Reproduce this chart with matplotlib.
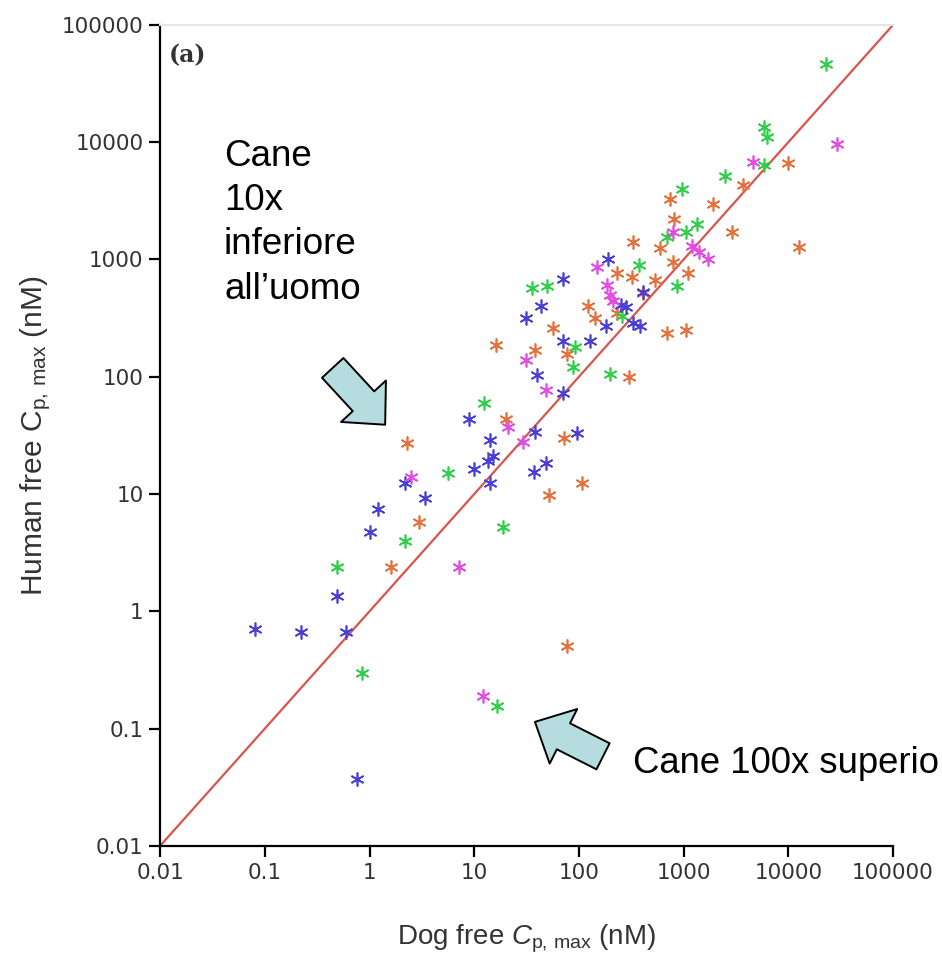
import numpy as np
import matplotlib
matplotlib.use("Agg")
import matplotlib.pyplot as plt

plt.rcParams["mathtext.fontset"] = "custom"
plt.rcParams["mathtext.rm"] = "Liberation Sans"
plt.rcParams["mathtext.it"] = "Liberation Sans:italic"

# values (dog free Cp,max, human free Cp,max), nM
blue_dog = [0.08, 0.22, 0.60, 0.49, 0.76, 1.0, 1.2, 2.2, 3.4, 9.0, 10, 14, 15, 13.5, 14,
            38, 95, 37, 48, 40, 70, 31, 43, 70, 70, 128, 190, 180, 250, 280, 330, 380, 410]
blue_hum = [0.70, 0.67, 0.67, 1.35, 0.037, 4.7, 7.5, 12.5, 9.3, 44, 16.5, 29, 21, 19, 12.5,
            34, 33, 15.5, 18.5, 104, 72, 320, 400, 680, 200, 200, 1000, 270, 410, 390, 285, 270, 530]

orange_dog = [1.6, 3.0, 2.3, 20, 72, 106, 52, 77, 16, 38, 57, 77, 123, 143, 232, 300, 230,
              320, 530, 410, 330, 600, 700, 1050, 790, 1100, 740, 810, 1900, 2900, 3700,
              10000, 12700]
orange_hum = [2.4, 5.8, 27, 44, 30, 12.5, 9.8, 0.51, 185, 170, 260, 155, 400, 320, 350, 100,
              770, 710, 670, 520, 1400, 1250, 235, 250, 950, 770, 3300, 2200, 3000, 1700,
              4300, 6600, 1270]

green_dog = [0.49, 0.85, 2.2, 5.6, 12.5, 19, 16.5, 36, 50, 92, 88, 200, 260, 375, 870, 700,
             1050, 1350, 970, 2500, 5900, 5800, 6300, 23000]
green_hum = [2.4, 0.30, 4.0, 15, 60, 5.2, 0.155, 570, 590, 180, 120, 105, 330, 900, 590, 1550,
             1700, 2000, 4000, 5200, 6400, 13500, 11000, 46000]

magenta_dog = [2.5, 7.2, 12, 21, 29, 31, 48, 150, 185, 200, 210, 800, 1200, 1400, 1700,
               4600, 29000]
magenta_hum = [14, 2.4, 0.19, 37, 28, 140, 77, 870, 600, 500, 440, 1700, 1300, 1150, 1000,
               6800, 9700]

ticks = [0.01, 0.1, 1, 10, 100, 1000, 10000, 100000]
tick_labels = ["0.01", "0.1", "1", "10", "100", "1000", "10000", "100000"]

fig = plt.figure(figsize=(9.42, 9.59), dpi=100)
ax = fig.add_axes([0.170, 0.118, 0.778, 0.856])

ax.plot(ticks, ticks, color="#d9544d", lw=1.6, zorder=1)

star = (6, 2, 0)
for xs, ys, col in [(orange_dog, orange_hum, "#e4703c"),
                    (green_dog, green_hum, "#2fcf4a"),
                    (blue_dog, blue_hum, "#4a3fd4"),
                    (magenta_dog, magenta_hum, "#e34be3")]:
    ax.plot(xs, ys, ls="none", marker=star, ms=10, mew=1.2, color=col, zorder=3)

ax.set_xscale("log")
ax.set_yscale("log")
ax.set_xlim(0.01, 100000)
ax.set_ylim(0.01, 100000)
ax.set_xticks(ticks, tick_labels)
ax.set_yticks(ticks, tick_labels)
ax.minorticks_off()
ax.tick_params(length=8, width=1.6, labelsize=15.5, labelcolor="#333333", pad=4)

for s in ["left", "bottom"]:
    ax.spines[s].set_linewidth(1.6)
ax.spines["right"].set_visible(False)
ax.spines["top"].set_color("#e6e6e6")
ax.spines["top"].set_linewidth(1.5)

ax.set_xlabel(r"Dog free $\mathit{C}_{\mathrm{p,\,max}}$ (nM)", family="Liberation Sans",
              fontsize=20, color="#333333", labelpad=29)
ax.set_ylabel(r"Human free $\mathrm{C}_{\mathrm{p,\,max}}$ (nM)", family="Liberation Sans",
              fontsize=21.5, color="#333333", labelpad=6)

ax.text(0.012, 0.978, "(a)", transform=ax.transAxes, family="DejaVu Serif",
        fontweight="bold", fontsize=17, va="top", ha="left", color="#333333")

# annotations
fig.text(224 / 942, 1 - 139 / 959, "Cane\n10x\ninferiore\nall\u2019uomo", family="Liberation Sans",
         fontsize=26.5, va="top", ha="left", linespacing=1.34)
fig.text(633 / 942, 1 - 773 / 959, "Cane 100x superio", family="Liberation Sans",
         fontsize=26.3, va="baseline", ha="left")

arrow = dict(arrowstyle="simple,head_width=4.4,head_length=2.3,tail_width=2.1",
             fc="#b5dde0", ec="black", lw=1.4, shrinkA=0, shrinkB=0, mutation_scale=10)
ax.annotate("", xy=(1.41, 39), xytext=(0.445, 119), arrowprops=arrow, annotation_clip=False)
ax.annotate("", xy=(38, 0.114), xytext=(170, 0.058), arrowprops=arrow, annotation_clip=False)

fig.savefig("out.png", dpi=100)
